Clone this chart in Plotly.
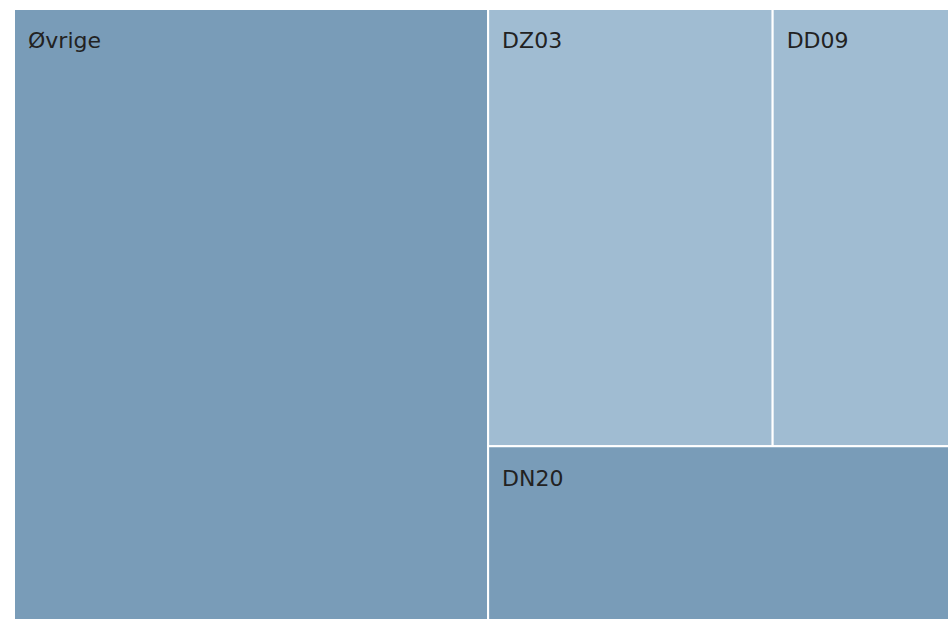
import plotly.graph_objects as go

labels = ["Øvrige", "DZ03", "DD09", "DN20"]
parents = ["", "", "", ""]
values = [50.6, 21.7, 13.6, 14.1]
colors = ["#799cb8", "#a0bcd2", "#a0bcd2", "#799cb8"]

fig = go.Figure(go.Treemap(
    labels=labels,
    parents=parents,
    values=values,
    marker=dict(colors=colors, line=dict(color="white", width=2),
                pad=dict(t=0, l=0, r=0, b=0)),
    texttemplate="\u00a0<br><span style='font-size:22px'>\u2002%{label}</span>",
    textposition="top left",
    textfont=dict(family="DejaVu Sans", size=16.5, color="#222222"),
    pathbar=dict(visible=False),
    sort=False,
    tiling=dict(pad=0, squarifyratio=1.618),
    hoverinfo="label+value",
))
fig.update_layout(
    width=951, height=621,
    margin=dict(l=14, r=0, t=9, b=0),
    paper_bgcolor="white",
)
fig.write_html(
    "out.html",
    config={"displayModeBar": False},
    post_script="document.body.style.margin='0px';document.body.style.overflow='hidden';",
)
